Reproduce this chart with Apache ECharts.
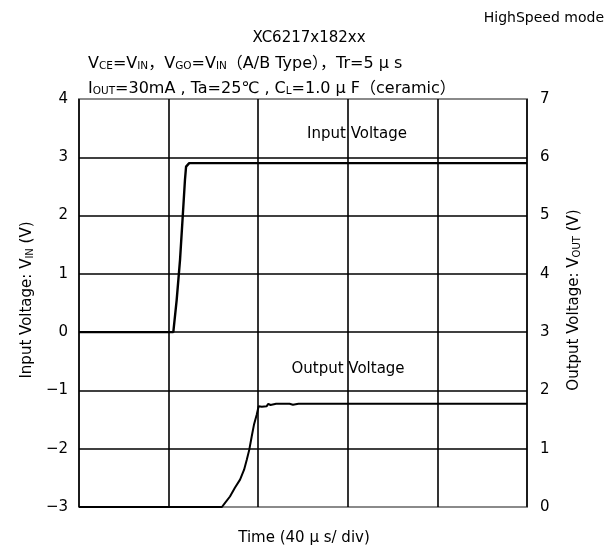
<!DOCTYPE html>
<html><head><meta charset="utf-8">
<script src="https://cdn.jsdelivr.net/npm/echarts@6/dist/echarts.min.js"></script>
<style>html,body{margin:0;padding:0;background:#fff}#c{width:608px;height:549px}</style>
</head><body><div id="c"></div>
<script>
// Time axis (µs), 40 µs/div
const timeMin = 0, timeMax = 200, timeStep = 40;
// Left axis: Input voltage (V)
const vinMin = -3, vinMax = 4;
// Right axis: Output voltage (V)
const voutMin = 0, voutMax = 7;

// Input voltage waveform
const inputTime    = [0, 42.1, 43.6, 45.1, 46.3, 47.3, 47.8, 49.2, 200];
const inputVoltage = [0, 0,    0.55, 1.24, 1.98, 2.61, 2.84, 2.90, 2.90];

// Output voltage waveform
const outputTime    = [0, 63.8, 65.2, 67.4, 69.6, 71.9, 73.7, 74.9, 76.0, 77.1, 78.1, 79.3, 80.2, 80.8, 81.6, 83.8, 84.5, 85.5, 88, 94, 95.5, 98, 200];
const outputVoltage = [0, 0,    0.07, 0.18, 0.33, 0.47, 0.64, 0.81, 0.98, 1.21, 1.41, 1.58, 1.73, 1.76, 1.72, 1.73, 1.77, 1.75, 1.77, 1.77, 1.755, 1.77, 1.77];

const FONT = "'DejaVu Sans', 'Noto Sans CJK JP', sans-serif";
const pair = (xs, ys) => xs.map((x, i) => [x, ys[i]]);

const base = {fontFamily: FONT, fontSize: 15, fill: '#000'};
function mkRich(size, subSize) {
  return {
    n: {fontFamily: FONT, fontSize: size, color: '#000', lineHeight: size + 3, verticalAlign: 'bottom'},
    s: {fontFamily: FONT, fontSize: subSize, color: '#000', lineHeight: subSize + 1, verticalAlign: 'bottom'}
  };
}
function richText(x, y, text, size, subSize, extra) {
  return {type: 'text', x: x, y: y,
    style: Object.assign({text: text, rich: mkRich(size, subSize), font: size + 'px ' + FONT, fill: '#000'}, extra || {})};
}

const chart = echarts.init(document.getElementById('c'), null, {renderer: 'canvas'});
chart.setOption({
  animation: false,
  backgroundColor: '#fff',
  grid: {left: 79, top: 99, width: 448, height: 408, show: true, borderColor: '#8a8a8a', borderWidth: 2, backgroundColor: 'transparent'},
  xAxis: {
    type: 'value', min: timeMin, max: timeMax, interval: timeStep,
    axisLine: {show: false}, axisTick: {show: false}, axisLabel: {show: false},
    splitLine: {show: true, lineStyle: {color: '#000', width: 1.6}}
  },
  yAxis: [{
    type: 'value', min: vinMin, max: vinMax, interval: 1, position: 'left',
    axisLine: {show: false}, axisTick: {show: false},
    axisLabel: {color: '#000', fontFamily: FONT, fontSize: 15, margin: 11,
      formatter: v => String(v).replace('-', '\u2212')},
    splitLine: {show: true, showMinLine: false, showMaxLine: false, lineStyle: {color: '#000', width: 1.6}}
  }, {
    type: 'value', min: voutMin, max: voutMax, interval: 1, position: 'right',
    axisLine: {show: false}, axisTick: {show: false},
    axisLabel: {color: '#000', fontFamily: FONT, fontSize: 15, margin: 13},
    splitLine: {show: false}
  }],
  series: [{
    name: 'Input Voltage', type: 'line', yAxisIndex: 0, showSymbol: false, symbol: 'none',
    data: pair(inputTime, inputVoltage),
    lineStyle: {color: '#000', width: 2.4}, z: 5
  }, {
    name: 'Output Voltage', type: 'line', yAxisIndex: 1, showSymbol: false, symbol: 'none',
    data: pair(outputTime, outputVoltage),
    lineStyle: {color: '#000', width: 2}, z: 5
  }],
  graphic: [
    {type: 'text', x: 604, y: 18, style: Object.assign({}, base, {fontSize: 14, text: 'HighSpeed mode', textAlign: 'right', textVerticalAlign: 'middle'})},
    {type: 'text', x: 309, y: 38, style: Object.assign({}, base, {text: 'XC6217x182xx', textAlign: 'center', textVerticalAlign: 'middle'})},
    richText(88, 62, '{n|V}{s|CE}{n|=V}{s|IN}{n|，V}{s|GO}{n|=V}{s|IN}{n|（A/B Type），Tr=5 μ s}', 16, 10.5, {textVerticalAlign: 'middle'}),
    richText(88, 87, '{n|I}{s|OUT}{n|=30mA , Ta=25℃ , C}{s|L}{n|=1.0 μ F（ceramic）}', 16, 10.5, {textVerticalAlign: 'middle'}),
    {type: 'text', x: 357, y: 134, style: Object.assign({}, base, {text: 'Input Voltage', textAlign: 'center', textVerticalAlign: 'middle'}), z: 10},
    {type: 'text', x: 348, y: 369, style: Object.assign({}, base, {text: 'Output Voltage', textAlign: 'center', textVerticalAlign: 'middle'}), z: 10},
    {type: 'text', x: 304, y: 538, style: Object.assign({}, base, {text: 'Time (40 μ s/ div)', textAlign: 'center', textVerticalAlign: 'middle'})},
    Object.assign(richText(26, 300, '{n|Input Voltage: V}{s|IN}{n| (V)}', 15, 10, {textAlign: 'center', textVerticalAlign: 'middle'}), {rotation: Math.PI / 2}),
    Object.assign(richText(573, 300, '{n|Output Voltage: V}{s|OUT}{n| (V)}', 15, 10, {textAlign: 'center', textVerticalAlign: 'middle'}), {rotation: Math.PI / 2})
  ]
});
</script>
</body></html>
